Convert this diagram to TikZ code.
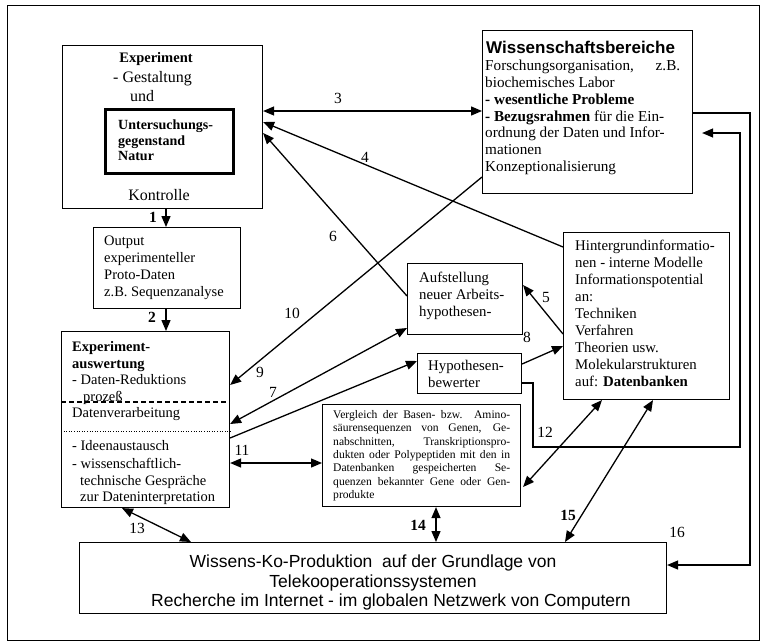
\documentclass[tikz,border=0pt]{standalone}
\usepackage{fontspec}
\setmainfont{Liberation Serif}
\setsansfont{Liberation Sans}
\usetikzlibrary{arrows.meta,calc}
\begin{document}
\begin{tikzpicture}[x=1pt,y=-1pt,
 box/.style={draw,line width=1.1pt,inner sep=0pt,anchor=north west},
 tx/.style={inner sep=0pt,anchor=base west,font=\fontsize{14.5}{17}\selectfont},
 txg/.style={inner sep=0pt,anchor=base west,font=\fontsize{16}{17}\selectfont},
 txb/.style={inner sep=0pt,anchor=base west,font=\bfseries\fontsize{14.5}{17}\selectfont},
 ml/.style={inner sep=0pt,anchor=north west,align=left,font=\fontsize{14.8}{17}\selectfont},
 lab/.style={inner sep=0pt,font=\fontsize{15.5}{17}\selectfont},
 labb/.style={inner sep=0pt,font=\bfseries\fontsize{15.5}{17}\selectfont},
 con/.style={line width=1.3pt,-{Triangle[length=11pt,width=9pt]}},
 dcon/.style={line width=1.3pt,{Triangle[length=11pt,width=9pt]}-{Triangle[length=11pt,width=9pt]}},
 ln/.style={line width=1.1pt}
]
\useasboundingbox (0,0) rectangle (764,643);
\node[box,line width=1.4pt,minimum width=752pt,minimum height=635pt] (frame) at (7,5) {};

% boxes
\node[box,minimum width=200pt,minimum height=163pt] (expbox) at (62,45) {};
\node[box,line width=2.6pt,minimum width=128pt,minimum height=64pt] (natbox) at (104,108) {};
\node[box,minimum width=147pt,minimum height=81pt] (outbox) at (93,227) {};
\node[box,minimum width=168pt,minimum height=176pt] (auswbox) at (61,331) {};
\node[box,minimum width=210pt,minimum height=163pt] (wissbox) at (482,30) {};
\node[box,minimum width=115pt,minimum height=71pt] (aufbox) at (407,263) {};
\node[box,minimum width=104pt,minimum height=40pt] (hypbox) at (417,353) {};
\node[box,minimum width=166pt,minimum height=167pt] (hintbox) at (563,232) {};
\node[box,minimum width=198pt,minimum height=102pt] (vglbox) at (322,404) {};
\node[box,minimum width=587pt,minimum height=71pt] (botbox) at (79,542) {};

% Experiment box texts
\node[txb,anchor=base] (t-exp) at (156,62) {Experiment};
\node[txg] (t-gest) at (113,82) {- Gestaltung};
\node[txg] (t-und) at (130,101) {und};
\node[ml,font=\bfseries\fontsize{14}{15.5}\selectfont] (t-nat) at (118,120) {Untersuchungs-\\gegenstand\\Natur};
\node[txg,anchor=base] (t-kon) at (159,200) {Kontrolle};

% Output box
\node[ml,font=\fontsize{14.5}{17}\selectfont] (t-out) at (104,236) {Output\\experimenteller\\Proto-Daten\\z.B. Sequenzanalyse};

% Auswertung box
\node[txb] (t-a1) at (72,351) {Experiment-};
\node[txb] (t-a2) at (72,368) {auswertung};
\node[tx] (t-a3) at (72,384) {- Daten-Reduktions};
\node[tx] (t-a4) at (83,401) {prozeß};
\node[tx] (t-a5) at (72,417) {Datenverarbeitung};
\node[tx] (t-a6) at (72,450) {- Ideenaustausch};
\node[tx] (t-a7) at (72,468) {- wissenschaftlich-};
\node[tx] (t-a8) at (80,485) {technische Gespräche};
\node[tx] (t-a9) at (80,501) {zur Dateninterpretation};
\draw[ln,dashed,dash pattern=on 5pt off 3pt] (auswbox.west |- 0,402) -- (auswbox.east |- 0,402);
\draw[line width=0.6pt,dotted] (auswbox.west |- 0,431) -- (auswbox.east |- 0,431);

% Wissenschaftsbereiche
\node[inner sep=0pt,anchor=base west,font=\sffamily\bfseries\fontsize{17}{18}\selectfont] (t-wiss) at (486,53) {Wissenschaftsbereiche};
\node[ml,font=\fontsize{15.2}{16.8}\selectfont] (t-wiss2) at (485,60) {\makebox[195pt][s]{Forschungsorganisation, z.B.}\\biochemisches Labor\\\textbf{- wesentliche Probleme}\\\textbf{- Bezugsrahmen} für die Ein-\\ordnung der Daten und Infor-\\mationen\\Konzeptionalisierung};

% Hintergrund
\node[ml] (t-hint) at (575,240) {Hintergrundinformatio-\\nen - interne Modelle\\Informationspotential\\an:\\Techniken\\Verfahren\\Theorien usw.\\Molekularstrukturen\\auf: \textbf{Datenbanken}};

% Aufstellung, Hypothesen
\node[ml] (t-auf) at (419,272) {Aufstellung\\neuer Arbeits-\\hypothesen-};
\node[ml] (t-hyp) at (428,360) {Hypothesen-\\bewerter};

% Vergleich
\node[ml,font=\fontsize{11.6}{13.4}\selectfont] (t-vgl) at (333,410) {\makebox[177pt][s]{Vergleich der Basen- bzw. Amino-}\\\makebox[177pt][s]{säurensequenzen von Genen, Ge-}\\\makebox[177pt][s]{nabschnitten, Transkriptionspro-}\\\makebox[177pt][s]{dukten oder Polypeptiden mit den in}\\\makebox[177pt][s]{Datenbanken gespeicherten Se-}\\\makebox[177pt][s]{quenzen bekannter Gene oder Gen-}\\produkte};

% bottom
\node[inner sep=0pt,align=center,anchor=north,font=\sffamily\fontsize{17.5}{19.5}\selectfont] (t-bot) at (373,555) {Wissens-Ko-Produktion\ \ auf der Grundlage von\\Telekooperationssystemen\\\hspace*{36pt}Recherche im Internet - im globalen Netzwerk von Computern};

% connectors
\draw[con] (166,0 |- expbox.south) -- (166,0 |- outbox.north);
\draw[con] (166,0 |- outbox.south) -- (166,0 |- auswbox.north);
\draw[dcon] (wissbox.west |- 0,111) -- (expbox.east |- 0,111);
\draw[con] (hintbox.west |- 0,247) -- (expbox.east |- 0,122);
\draw[con] (hintbox.west |- 0,334) -- (aufbox.east |- 0,285);
\draw[con] (aufbox.west |- 0,296) -- (expbox.east |- 0,133);
\draw[dcon] (aufbox.west |- 0,328) -- (auswbox.east |- 0,424);
\draw[con] (hypbox.east |- 0,364) -- (hintbox.west |- 0,346);
\draw[con] (wissbox.west |- 0,177) -- (auswbox.east |- 0,385);
\draw[con] (auswbox.east |- 0,438) -- (hypbox.west |- 0,361);
\draw[dcon] (auswbox.east |- 0,463) -- (vglbox.west |- 0,463);
\draw[con] (hypbox.east |- 0,383) -| (533,447) -| (740,133) -- ($(wissbox.east |- 0,133)+(9,0)$);
\draw[con] (wissbox.east |- 0,113) -| (750,565) -- (botbox.east |- 0,565);
\draw[dcon] (hintbox.south -| 602,0) -- ($(vglbox.east |- 0,487)+(2,0)$);
\draw[dcon] (hintbox.south -| 653,0) -- (botbox.north -| 565,0);
\draw[dcon] (auswbox.south -| 122,0) -- (botbox.north -| 191,0);
\draw[dcon] (vglbox.south -| 436,0) -- (botbox.north -| 436,0);

% labels
\node[labb] (n1) at (153,217) {1};
\node[labb] (n2) at (152,317) {2};
\node[lab] (n3) at (338,98) {3};
\node[lab] (n4) at (365,157) {4};
\node[lab] (n5) at (546,297) {5};
\node[lab] (n6) at (333,236) {6};
\node[lab] (n7) at (273,392) {7};
\node[lab] (n8) at (527,337) {8};
\node[lab] (n9) at (260,372) {9};
\node[lab] (n10) at (292,313) {10};
\node[lab] (n11) at (242,450) {11};
\node[lab] (n12) at (545,432) {12};
\node[lab] (n13) at (137,528) {13};
\node[labb] (n14) at (418,525) {14};
\node[labb] (n15) at (568,515) {15};
\node[lab] (n16) at (677,532) {16};
\end{tikzpicture}
\end{document}
